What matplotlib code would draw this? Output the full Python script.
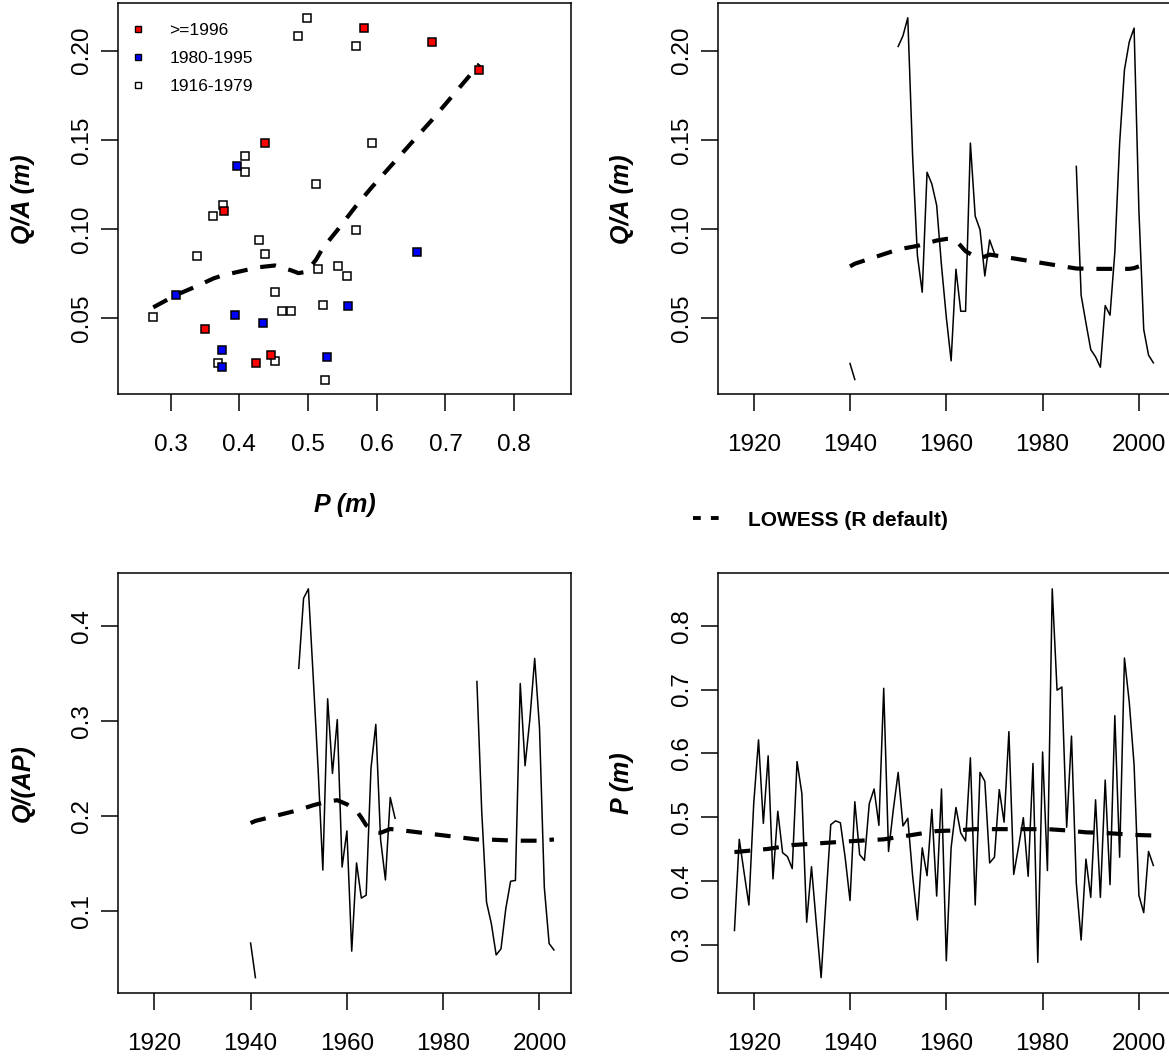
import numpy as np
import matplotlib
matplotlib.use("Agg")
import matplotlib.pyplot as plt
from matplotlib.lines import Line2D

plt.rcParams['font.family'] = ['Liberation Sans', 'DejaVu Sans']

# ---- data ----
years = list(range(1916, 2004))

# annual precipitation P (m), 1916-2003
precip = [0.322, 0.465, 0.413, 0.362, 0.521, 0.621, 0.490, 0.596, 0.403, 0.509,
          0.444, 0.438, 0.419, 0.587, 0.537, 0.335, 0.422, 0.333, 0.248, 0.370,
          0.488, 0.494, 0.491, 0.436, 0.369, 0.524, 0.441, 0.432, 0.521, 0.544,
          0.487, 0.702, 0.446, 0.512, 0.570, 0.486, 0.498, 0.408, 0.3385, 0.4516,
          0.408, 0.512, 0.376, 0.544, 0.2745, 0.452, 0.515, 0.475, 0.4625, 0.593,
          0.362, 0.570, 0.556, 0.428, 0.437, 0.543, 0.492, 0.634, 0.410, 0.453,
          0.499, 0.407, 0.584, 0.272, 0.602, 0.416, 0.858, 0.699, 0.704, 0.484,
          0.627, 0.396, 0.307, 0.434, 0.374, 0.527, 0.374, 0.558, 0.394, 0.659,
          0.437, 0.7495, 0.680, 0.582, 0.377, 0.350, 0.446, 0.424]

# years with runoff data
q_years = [1940, 1941, 1944] + list(range(1950, 1971)) + list(range(1987, 2004))
# runoff depth Q/A (m)
qa = [0.0245, 0.0155, 0.0572,
      0.2024, 0.2084, 0.2185, 0.1412, 0.0850, 0.0645, 0.1318, 0.1252, 0.1132,
      0.0794, 0.0505, 0.0260, 0.0774, 0.0538, 0.0538, 0.1482, 0.1072, 0.0996,
      0.0736, 0.0938, 0.0862,
      0.1351, 0.0628, 0.0473, 0.0323, 0.0282, 0.0224, 0.0570, 0.0516, 0.0869,
      0.1482, 0.1893, 0.2050, 0.2127, 0.1103, 0.0436, 0.0292, 0.0249]
# runoff ratio Q/(AP)
qap = [0.0660, 0.0296, 0.1098,
       0.3551, 0.4288, 0.4387, 0.3461, 0.2511, 0.1428, 0.3230, 0.2445, 0.3011,
       0.1460, 0.1840, 0.0575, 0.1503, 0.1133, 0.1163, 0.2499, 0.2961, 0.1747,
       0.1324, 0.2192, 0.1973,
       0.3412, 0.2046, 0.1090, 0.0864, 0.0535, 0.0599, 0.1022, 0.1310, 0.1319,
       0.3391, 0.2526, 0.3015, 0.3655, 0.2926, 0.1246, 0.0655, 0.0587]

# LOWESS curves
lw_scatter_p = [0.2745, 0.307, 0.3385, 0.362, 0.376, 0.408, 0.428, 0.4516, 0.475,
                0.486, 0.498, 0.512, 0.521, 0.544, 0.558, 0.570, 0.593, 0.659,
                0.680, 0.7495]
lw_scatter_q = [0.0560, 0.0628, 0.0680, 0.0722, 0.0740, 0.0768, 0.0785, 0.0795,
                0.0768, 0.0752, 0.0760, 0.0830, 0.0890, 0.1000, 0.1070, 0.1130,
                0.1235, 0.1520, 0.1610, 0.1925]
lw_qa_years = [1940, 1941, 1950, 1952, 1954, 1956, 1958, 1960, 1961, 1962, 1963,
               1964, 1966, 1967, 1968, 1969, 1970, 1987, 1990, 1995, 1998, 1999, 2000]
lw_qa_vals = [0.0790, 0.0805, 0.0885, 0.0895, 0.0905, 0.0920, 0.0935, 0.0944,
              0.0944, 0.0935, 0.0905, 0.0875, 0.0845, 0.0838, 0.0845, 0.0856,
              0.0852, 0.0778, 0.0776, 0.0776, 0.0776, 0.0780, 0.0790]
lw_qap_years = [1940, 1941, 1950, 1953, 1956, 1958, 1960, 1962, 1963, 1964, 1966,
                1967, 1969, 1970, 1987, 1990, 1995, 2000, 2003]
lw_qap_vals = [0.1923, 0.1945, 0.2060, 0.2110, 0.2150, 0.2163, 0.2120, 0.2050,
               0.1980, 0.1900, 0.1825, 0.1820, 0.1860, 0.1855, 0.1750, 0.1748,
               0.1737, 0.1737, 0.1750]
lw_p_years = [1916, 1923, 1928, 1934, 1940, 1947, 1953, 1958, 1962, 1966, 1972,
              1981, 1985, 1989, 1993, 1999, 2003]
lw_p_vals = [0.445, 0.450, 0.456, 0.459, 0.462, 0.465, 0.472, 0.478, 0.479, 0.481,
             0.481, 0.481, 0.479, 0.476, 0.475, 0.472, 0.471]

group_labels = ['>=1996', '1980-1995', '1916-1979']
group_colors = ['#FF0000', '#0000FF', 'white']

# ---- figure ----
W, H = 1169, 1059
fig = plt.figure(figsize=(W / 100, H / 100), dpi=100)


def px_axes(left, top, right, bottom):
    return fig.add_axes([left / W, 1 - bottom / H, (right - left) / W, (bottom - top) / H])


def r_range(vals):
    # R's default 4% axis extension
    lo, hi = np.nanmin(vals), np.nanmax(vals)
    d = (hi - lo) * 0.04
    return lo - d, hi + d


def style_axes(ax):
    for s in ax.spines.values():
        s.set_linewidth(1.1)
    ax.tick_params(direction='out', length=12, width=1.1, labelsize=17.5)
    ax.tick_params(axis='x', pad=17)
    ax.tick_params(axis='y', labelrotation=90, pad=6)
    for lab in ax.get_yticklabels():
        lab.set_va('center')


ax1 = px_axes(118.3, 3.3, 570.7, 394)
ax2 = px_axes(717.7, 3.3, 1170.1, 394)
ax3 = px_axes(118.3, 573.3, 570.7, 993.2)
ax4 = px_axes(717.7, 573.3, 1170.1, 993.2)

# full series on the year grid (NaN where no runoff data)
qa_full = np.full(len(years), np.nan)
qap_full = np.full(len(years), np.nan)
for y, a, b in zip(q_years, qa, qap):
    qa_full[years.index(y)] = a
    qap_full[years.index(y)] = b
precip = np.array(precip)
yrs = np.array(years)

dash_kw = dict(color='black', lw=3, dashes=(3.8, 3.1), dash_capstyle='butt')
line_kw = dict(color='black', lw=1.1)

# --- panel 1: Q/A vs P scatter ---
ok = ~np.isnan(qa_full)
groups = [yrs >= 1996, (yrs >= 1980) & (yrs <= 1995), yrs <= 1979]
for mask, c in zip(groups[::-1], group_colors[::-1]):
    m = mask & ok
    ax1.plot(precip[m], qa_full[m], ls='none', marker='s', ms=6.3, mew=1.1,
             mfc=c, mec='black')
ax1.plot(lw_scatter_p, lw_scatter_q, **dash_kw)
ax1.set_xlim(r_range(precip))
ax1.set_ylim(r_range(qa))
ax1.set_xticks([0.3, 0.4, 0.5, 0.6, 0.7, 0.8])
ax1.set_xticklabels(['0.3', '0.4', '0.5', '0.6', '0.7', '0.8'])
ax1.set_yticks([0.05, 0.10, 0.15, 0.20])
ax1.set_yticklabels(['0.05', '0.10', '0.15', '0.20'])
handles = [Line2D([], [], ls='none', marker='s', ms=4.8, mew=1.0, mfc=c, mec='black')
           for c in group_colors]
ax1.legend(handles, group_labels, loc='upper left', bbox_to_anchor=(0, 1 - 8 / 391),
           frameon=False, fontsize=12.5, handlelength=1.0, handletextpad=1.28,
           borderaxespad=0, borderpad=0.65, labelspacing=0.74)

# --- panel 2: Q/A time series ---
ax2.plot(yrs, qa_full, **line_kw)
ax2.plot(lw_qa_years, lw_qa_vals, **dash_kw)
ax2.set_xlim(r_range(years))
ax2.set_ylim(r_range(qa))
ax2.set_yticks([0.05, 0.10, 0.15, 0.20])
ax2.set_yticklabels(['0.05', '0.10', '0.15', '0.20'])

# --- panel 3: Q/(AP) time series ---
ax3.plot(yrs, qap_full, **line_kw)
ax3.plot(lw_qap_years, lw_qap_vals, **dash_kw)
ax3.set_xlim(r_range(years))
ax3.set_ylim(r_range(qap))
ax3.set_yticks([0.1, 0.2, 0.3, 0.4])
ax3.set_yticklabels(['0.1', '0.2', '0.3', '0.4'])

# --- panel 4: P time series ---
ax4.plot(yrs, precip, **line_kw)
ax4.plot(lw_p_years, lw_p_vals, **dash_kw)
ax4.set_xlim(r_range(years))
ax4.set_ylim(r_range(precip))
ax4.set_yticks([0.3, 0.4, 0.5, 0.6, 0.7, 0.8])
ax4.set_yticklabels(['0.3', '0.4', '0.5', '0.6', '0.7', '0.8'])

for ax in (ax2, ax3, ax4):
    ax.set_xticks([1920, 1940, 1960, 1980, 2000])
    ax.set_xticklabels(['1920', '1940', '1960', '1980', '2000'])
for ax in (ax1, ax2, ax3, ax4):
    style_axes(ax)

# axis titles (bold italic)
lab_kw = dict(fontsize=18, fontweight='bold', fontstyle='italic', ha='center', va='center')
fig.text(23 / W, 1 - 199 / H, 'Q/A (m)', rotation=90, **lab_kw)
fig.text(622 / W, 1 - 199 / H, 'Q/A (m)', rotation=90, **lab_kw)
fig.text(23 / W, 1 - 783 / H, 'Q/(AP)', rotation=90, **lab_kw)
fig.text(622 / W, 1 - 783 / H, 'P (m)', rotation=90, **lab_kw)
fig.text(344.5 / W, 1 - 505 / H, 'P (m)', **lab_kw)

# LOWESS legend between the right-hand panels
lw_handle = Line2D([], [], color='black', lw=2.8, dashes=(2.0, 2.6), dash_capstyle='butt')
fig.legend([lw_handle], ['LOWESS (R default)'], loc='center left',
           bbox_to_anchor=(693 / W, 1 - 520 / H), frameon=False,
           prop={'weight': 'bold', 'size': 15}, handlelength=1.35,
           handletextpad=1.3, borderaxespad=0, borderpad=0)

fig.savefig('out.png', dpi=100)
